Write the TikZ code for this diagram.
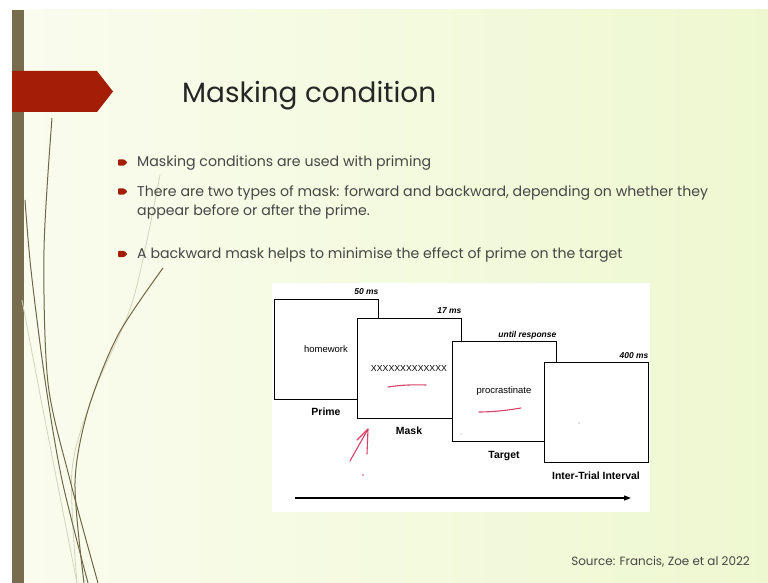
\documentclass[tikz,border=0pt]{standalone}
\usepackage{fontspec}
\setmainfont{Poppins}
\newfontfamily\figfont{Liberation Sans}
\usetikzlibrary{positioning,arrows.meta}

\definecolor{slideleft}{HTML}{FAFCEE}
\definecolor{slideright}{HTML}{EEF8D0}
\definecolor{barolive}{HTML}{776C4E}
\definecolor{tagred}{HTML}{A31D07}
\definecolor{bodygray}{HTML}{464646}
\definecolor{inkpink}{HTML}{D8426A}
\definecolor{wisp}{HTML}{6F6747}
\definecolor{wisplight}{HTML}{D2D4BC}

\tikzset{
	screen/.style={draw, line width=1bp, fill=white, minimum width=104bp, minimum height=100bp, inner sep=0pt, font=\figfont\fontsize{9.5}{11}\selectfont},
	timelabel/.style={anchor=base east, yshift=4bp, inner sep=0pt, font=\figfont\bfseries\itshape\fontsize{8.5}{10}\selectfont},
	stagelabel/.style={anchor=base, yshift=-16bp, inner sep=0pt, font=\figfont\bfseries\fontsize{10.5}{12}\selectfont},
	bullettext/.style={anchor=base west, inner sep=0pt, text=bodygray, font=\fontsize{14.2}{18}\selectfont},
	ink/.style={inkpink, line width=1.1bp, line cap=round, line join=round},
}

\begin{document}
\begin{tikzpicture}[x=1bp,y=-1bp]
	\useasboundingbox (0,0) rectangle (768,583);
	
	% slide background
	\fill[white] (0,0) rectangle (768,583);
	\shade[left color=slideleft, right color=slideright] (12,10) rectangle (768,583);
	\fill[barolive] (12,10) rectangle (24,583);
	
	% wisps
	\draw[wisplight, line width=0.8bp] plot[smooth] coordinates {(160,175) (133,300) (95,390) (72,470) (77,583)};
	\draw[wisplight, line width=0.8bp] plot[smooth] coordinates {(22,300) (45,420) (77,583)};
	\draw[wisp, line width=1bp] plot[smooth] coordinates {(52,118) (44,250) (48,383) (70,480) (98,583)};
	\draw[wisp, line width=1bp] plot[smooth] coordinates {(25,200) (31,270) (45,380) (62,480) (88,583)};
	\draw[wisp, line width=1bp] plot[smooth] coordinates {(163,268) (118,335) (88,410) (75,483) (84,583)};
	
	% title tag
	\fill[tagred] (12,71) -- (97,71) -- (113,91.5) -- (97,112) -- (12,112) -- cycle;
	\node[anchor=base west, inner sep=0pt, text=black!85, font=\fontsize{28}{34}\selectfont] (title) at (182,103) {Masking condition};
	
	% bullets
	\foreach \yb in {162.5,191.5,254}
		\fill[tagred, rounded corners=1bp] (118,\yb-3.2) -- (124,\yb-3.2) -- (127.5,\yb) -- (124,\yb+3.2) -- (118,\yb+3.2) -- cycle;
	\node[bullettext] (item1) at (137,167) {Masking conditions are used with priming};
	\node[bullettext] (item2) at (137,197) {There are two types of mask: forward and backward, depending on whether they};
	\node[bullettext] (item2b) at (137,216) {appear before or after the prime.};
	\node[bullettext] (item3) at (137,258) {A backward mask helps to minimise the effect of prime on the target};
	
	% figure
	\fill[white] (272,283) rectangle (650,512);
	\node[screen] (prime) at (326,349) {homework};
	\node[screen] (mask) at (409,368) {\fontsize{8.8}{10}\selectfont XXXXXXXXXXXXX};
	\node[screen] (target) at (504,391.5) {procrastinate};
	\node[screen] (iti) at (596,412.5) {};
	
	\node[timelabel] (primetime) at (prime.north east) {50 ms};
	\node[timelabel] (masktime) at (mask.north east) {17 ms};
	\node[timelabel] (targettime) at (target.north east) {until response};
	\node[timelabel] (ititime) at (iti.north east) {400 ms};
	
	\node[stagelabel] (primename) at (prime.south) {Prime};
	\node[stagelabel] (maskname) at (mask.south) {Mask};
	\node[stagelabel] (targetname) at (target.south) {Target};
	\node[stagelabel] (itiname) at (iti.south) {Inter-Trial Interval};
	
	% time axis
	\coordinate (tstart) at (295,498);
	\coordinate (tend) at (631,498);
	\draw[line width=1.2bp, -{Triangle[length=7bp, width=5bp]}] (tstart) -- (tend);
	
	% handwritten marks
	\draw[ink] (388,387) .. controls (400,385) and (414,384.5) .. (426,385);
	\draw[ink] (479,412) .. controls (494,412) and (509,410) .. (521,408);
	\draw[ink] (350,461) -- (368,429) -- (367,454);
	\draw[ink] (357,440) -- (368,429);
	\fill[inkpink] (363,475) circle (0.8bp);
	\fill[gray] (579,423) circle (0.6bp);
	\fill[gray] (461,434) circle (0.5bp);
	
	% source
	\node[anchor=base east, inner sep=0pt, text=bodygray, font=\fontsize{12}{14}\selectfont] (source) at (750,565) {Source: Francis, Zoe et al 2022};
	
\end{tikzpicture}
\end{document}
